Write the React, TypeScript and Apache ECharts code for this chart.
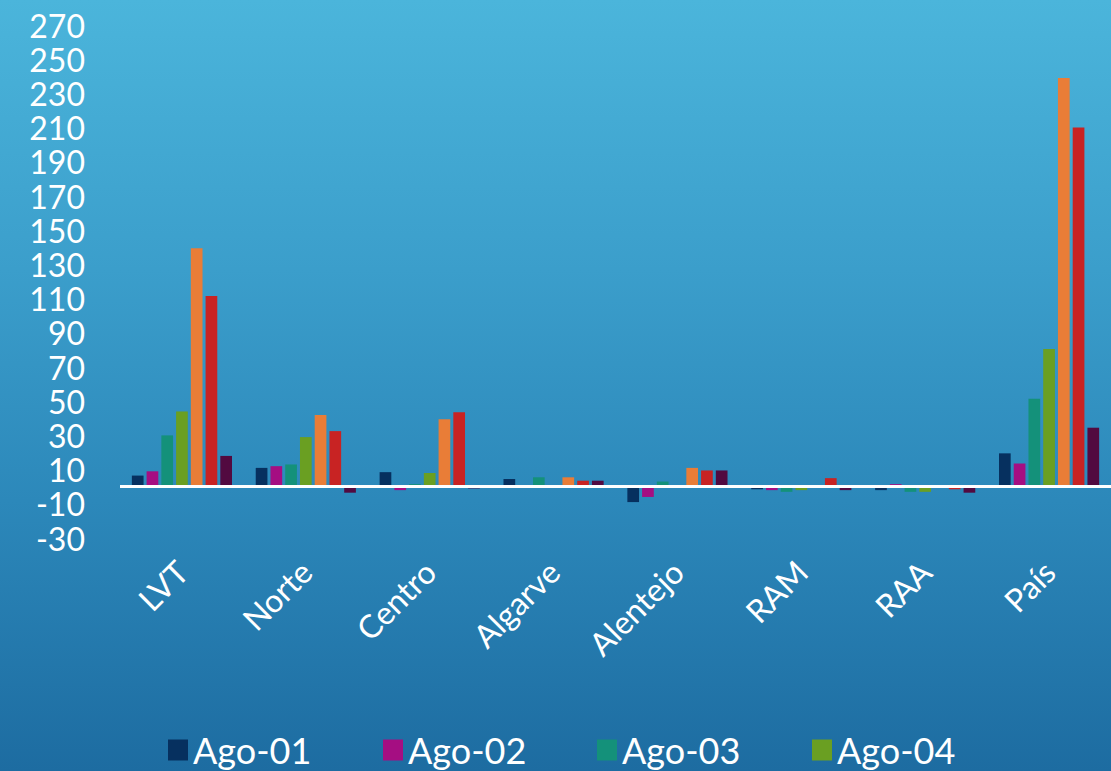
import React, { useEffect, useRef } from "react";
import * as echarts from "echarts";

const categories = ["LVT", "Norte", "Centro", "Algarve", "Alentejo", "RAM", "RAA", "País"];
const seriesNames = ["Ago-01", "Ago-02", "Ago-03", "Ago-04", "Ago-05", "Ago-06", "Ago-07"];
const ago01 = [6.5, 11, 8.5, 4.5, -9, -1.5, -2, 19.5];
const ago02 = [9, 12, -2, 0, -6, -2, 1.5, 13.5];
const ago03 = [30, 13, 1.5, 5.5, 3, -3, -3, 51.5];
const ago04 = [44, 29, 8, 0.5, 1, -2, -3, 80.5];
const ago05 = [139.5, 42, 39.5, 5.5, 11, 0, 0, 239];
const ago06 = [111.5, 32.5, 43.5, 3.5, 9.5, 5, -1.5, 210];
const ago07 = [18, -3.5, -1, 3.5, 9.5, -2, -3.5, 34.5];
const seriesValues = [ago01, ago02, ago03, ago04, ago05, ago06, ago07];
const colors = ["#06305f", "#a50e82", "#14917a", "#6a9f22", "#e97d37", "#c82323", "#520a40"];
const legendShown = ["Ago-01", "Ago-02", "Ago-03", "Ago-04"];
const legendLeft = [168, 383, 597, 812];

const FONT = "Lato, 'Open Sans', sans-serif";

export default function App() {
  const ref = useRef<HTMLDivElement>(null);
  useEffect(() => {
    if (!ref.current) return;
    const chart = echarts.init(ref.current, undefined, { renderer: "svg" });
    const series: any[] = seriesNames.map((name, i) => {
      const s: any = {
        name,
        type: "bar",
        data: seriesValues[i],
        barWidth: 11.7,
        barGap: "26%",
        itemStyle: { color: colors[i] },
      };
      if (i === 0) {
        s.markLine = {
          silent: true,
          symbol: "none",
          label: { show: false },
          lineStyle: { color: "#ffffff", width: 3, type: "solid" },
          data: [{ yAxis: 0 }],
        };
      }
      return s;
    });
    chart.setOption({
      animation: false,
      color: colors,
      textStyle: { fontFamily: FONT },
      grid: { left: 120, right: -11, top: 25, bottom: 233, containLabel: false },
      legend: legendShown.map((name, i) => ({
        data: [name],
        left: legendLeft[i],
        top: 731,
        padding: 0,
        icon: "rect",
        itemWidth: 20,
        itemHeight: 21,
        selectedMode: false,
        textStyle: { color: "#ffffff", fontSize: 36, lineHeight: 38, fontFamily: FONT },
      })),
      xAxis: {
        type: "category",
        data: categories,
        axisLine: { show: false, onZero: false },
        axisTick: { show: false },
        axisLabel: {
          rotate: 45,
          interval: 0,
          color: "#ffffff",
          fontSize: 32,
          margin: 28,
          fontFamily: FONT,
        },
      },
      yAxis: {
        type: "value",
        min: -30,
        max: 270,
        interval: 20,
        axisLine: { show: false },
        axisTick: { show: false },
        splitLine: { show: false },
        axisLabel: { color: "#ffffff", fontSize: 32, lineHeight: 32, margin: 35, fontFamily: FONT },
      },
      series,
    });
    return () => chart.dispose();
  }, []);
  return (
    <div
      style={{
        position: "fixed",
        left: 0,
        top: 0,
        width: 1111,
        height: 771,
        background: "linear-gradient(to bottom, #4bb5db 0%, #3b9ecb 35%, #2c88ba 65%, #1d6ca1 100%)",
      }}
    >
      <div ref={ref} style={{ width: 1111, height: 771 }} />
    </div>
  );
}
